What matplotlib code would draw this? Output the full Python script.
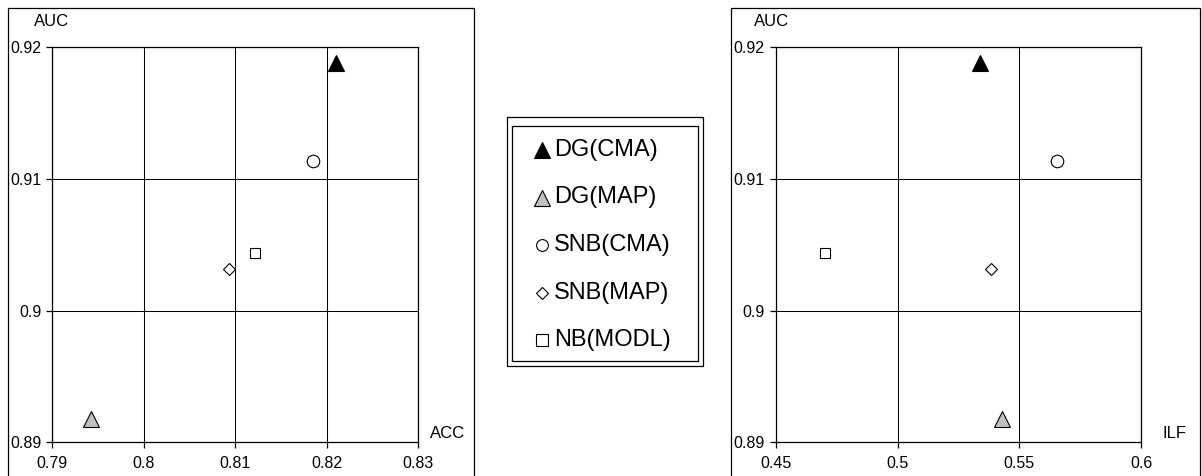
import numpy as np
import matplotlib
matplotlib.use("Agg")
import matplotlib.pyplot as plt
from matplotlib.patches import Rectangle

plt.rcParams['font.family'] = ['Liberation Sans', 'DejaVu Sans']

# data
methods = ['DG(CMA)', 'DG(MAP)', 'SNB(CMA)', 'SNB(MAP)', 'NB(MODL)']
auc = [0.9188, 0.8918, 0.9114, 0.9032, 0.9044]
acc = [0.8210, 0.7942, 0.8185, 0.8093, 0.8122]
ilf = [0.5337, 0.5428, 0.5654, 0.5384, 0.4702]

acc_ticks = [0.79, 0.80, 0.81, 0.82, 0.83]
acc_labels = ['0.79', '0.8', '0.81', '0.82', '0.83']
ilf_ticks = [0.45, 0.50, 0.55, 0.60]
ilf_labels = ['0.45', '0.5', '0.55', '0.6']
auc_ticks = [0.89, 0.90, 0.91, 0.92]
auc_labels = ['0.89', '0.9', '0.91', '0.92']

# marker style per method: (marker, facecolor, plot size, legend size)
styles = {
    'DG(CMA)': ('^', 'black', 12, 11),
    'DG(MAP)': ('^', '#c0c0c0', 12, 11),
    'SNB(CMA)': ('o', 'white', 9, 8.5),
    'SNB(MAP)': ('D', 'white', 6.3, 6.3),
    'NB(MODL)': ('s', 'white', 7.3, 8.2),
}

W, H = 1202, 476
fig = plt.figure(figsize=(W / 100, H / 100), dpi=100)


def px(x0, y0, x1, y1):
    # pixel box (top-left origin) -> figure fraction rect
    return [x0 / W, 1 - y1 / H, (x1 - x0) / W, (y1 - y0) / H]


def panel(rect, xs, xticks, xlabels, xname, box, ylab_pos, xlab_pos):
    fig.add_artist(Rectangle((box[0] / W, 1 - box[3] / H),
                             (box[2] - box[0]) / W, (box[3] - box[1]) / H,
                             transform=fig.transFigure, fill=False,
                             edgecolor='black', lw=0.9))
    ax = fig.add_axes(px(*rect))
    for m, x, y in zip(methods, xs, auc):
        mk, fc, ms, _ = styles[m]
        ax.plot(x, y, marker=mk, ms=ms, mfc=fc, mec='black', mew=0.8,
                ls='none', zorder=3, clip_on=False)
    ax.set_xlim(xticks[0], xticks[-1])
    ax.set_ylim(auc_ticks[0], auc_ticks[-1])
    ax.set_xticks(xticks, xlabels)
    ax.set_yticks(auc_ticks, auc_labels)
    ax.grid(True, color='black', lw=0.75)
    ax.set_axisbelow(True)
    for s in ax.spines.values():
        s.set_linewidth(0.9)
    ax.tick_params(direction='out', length=4, width=0.9, labelsize=11.5)
    ax.tick_params(axis='x', pad=6)
    ax.tick_params(axis='y', pad=4)
    fig.text(ylab_pos[0] / W, 1 - ylab_pos[1] / H, 'AUC', fontsize=12,
             ha='center', va='center')
    fig.text(xlab_pos[0] / W, 1 - xlab_pos[1] / H, xname, fontsize=12,
             ha='center', va='center')
    return ax


panel((52.3, 47.3, 418.0, 442.3), acc, acc_ticks, acc_labels, 'ACC',
      (8, 8, 474, 490), (52, 21), (448, 434))
panel((775.7, 47.3, 1141.3, 442.3), ilf, ilf_ticks, ilf_labels, 'ILF',
      (731, 8, 1200, 490), (772, 21), (1175, 434))

# legend: double frame with manually placed entries
fig.add_artist(Rectangle((507 / W, 1 - 366 / H), 196 / W, 249 / H,
                         transform=fig.transFigure, fill=False,
                         edgecolor='black', lw=0.9))
lax = fig.add_axes(px(512, 126, 698, 361))
lax.set_xlim(0, 186)
lax.set_ylim(235, 0)
lax.set_xticks([])
lax.set_yticks([])
for s in lax.spines.values():
    s.set_linewidth(0.9)
rows = 24 + 47.5 * np.arange(len(methods))
for m, ry in zip(methods, rows):
    mk, fc, _, lms = styles[m]
    lax.plot(30, ry, marker=mk, ms=lms, mfc=fc, mec='black', mew=0.8, ls='none')
    lax.text(42, ry, m, fontsize=17, ha='left', va='center')

fig.savefig('out.png', dpi=100)
